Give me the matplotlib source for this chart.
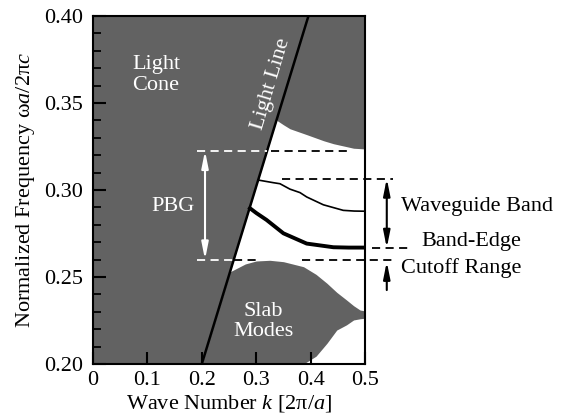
import matplotlib
matplotlib.use("Agg")
import matplotlib.pyplot as plt
from matplotlib.ticker import MultipleLocator

plt.rcParams['font.family'] = ['Liberation Serif', 'DejaVu Serif']
plt.rcParams['mathtext.fontset'] = 'custom'
plt.rcParams['mathtext.rm'] = 'Liberation Serif'
plt.rcParams['mathtext.it'] = 'Liberation Serif:italic'

GRAY = '#626262'

# light line (k, omega)
light_k = [0.2, 0.396]
light_w = [0.2, 0.4]

# upper continuum, lower edge (starts on the light line)
upper_k = [0.338, 0.35, 0.362, 0.393, 0.424, 0.442, 0.472, 0.479, 0.5]
upper_w = [0.340, 0.3375, 0.3352, 0.3318, 0.3283, 0.3266, 0.3245, 0.324, 0.3236]

# slab modes: upper and lower edges
slab_k = [0.2, 0.252, 0.28, 0.30, 0.325, 0.35, 0.387, 0.41, 0.43, 0.448, 0.466, 0.479, 0.491, 0.5]
slab_top = [0.2, 0.253, 0.2575, 0.2592, 0.2596, 0.2588, 0.2559, 0.2515, 0.2464, 0.2412, 0.2368, 0.2335, 0.231, 0.2305]
slab_bot = [0.2, 0.2, 0.2, 0.2, 0.2, 0.2, 0.2, 0.2045, 0.2119, 0.2195, 0.2225, 0.2253, 0.2260, 0.2263]

# guided bands
band1_k = [0.304, 0.3315, 0.3437, 0.362, 0.3805, 0.3928, 0.4234, 0.46, 0.48, 0.5]
band1_w = [0.3057, 0.3042, 0.3036, 0.3005, 0.2985, 0.2960, 0.2915, 0.2883, 0.2879, 0.2878]
band2_k = [0.2886, 0.30, 0.319, 0.35, 0.3928, 0.4418, 0.47, 0.5]
band2_w = [0.2895, 0.2868, 0.2828, 0.2751, 0.2692, 0.2671, 0.2669, 0.2669]

# reference levels
pbg_top = 0.3225
pbg_bot = 0.2600
wg_top = 0.3066
edge_w = 0.2667
cutoff_w = 0.2600

fig = plt.figure(figsize=(5.66, 4.19), dpi=100)
ax = fig.add_axes([0.1643, 0.1313, 0.4806, 0.8305])

# regions
ax.fill_betweenx(light_w, 0, light_k, color=GRAY, lw=0)
ax.fill_between(upper_k, upper_w, 0.4, color=GRAY, lw=0)
ax.fill_between(slab_k, slab_bot, slab_top, color=GRAY, lw=0)
ax.plot(light_k, light_w, color='black', lw=1.8, solid_capstyle='butt')

# bands
ax.plot(band1_k, band1_w, color='black', lw=1.2)
ax.plot(band2_k, band2_w, color='black', lw=2.8)

dash = dict(lw=1.3, dashes=(4.5, 3), clip_on=False)
# PBG edges: white over the gray, black in the open region
ax.plot([0.1906, 0.32], [pbg_top, pbg_top], color='white', **dash)
ax.plot([0.328, 0.472], [pbg_top, pbg_top], color='black', **dash)
ax.plot([0.1906, 0.2588], [pbg_bot, pbg_bot], color='white', **dash)
ax.plot([0.2588, 0.301], [pbg_bot, pbg_bot], color='black', **dash)
ax.plot([0.3836, 0.552], [cutoff_w, cutoff_w], color='black', **dash)
ax.plot([0.347, 0.552], [wg_top, wg_top], color='black', **dash)
ax.plot([0.512, 0.586], [edge_w, edge_w], color='black', **dash)

# arrows
head = '<|-|>,head_length=1.0,head_width=0.2'
ax.annotate('', xy=(0.2059, pbg_bot), xytext=(0.2059, pbg_top),
            arrowprops=dict(arrowstyle=head, color='white', lw=1.5, shrinkA=0, shrinkB=0))
ax.annotate('', xy=(0.54, edge_w), xytext=(0.54, wg_top), annotation_clip=False,
            arrowprops=dict(arrowstyle=head, color='black', lw=1.5, shrinkA=0, shrinkB=0))
ax.annotate('', xy=(0.54, cutoff_w - 0.0012), xytext=(0.54, 0.2425), annotation_clip=False,
            arrowprops=dict(arrowstyle='-|>,head_length=1.0,head_width=0.2',
                            color='black', lw=1.5, shrinkA=0, shrinkB=0))

# labels
fs = 16
ax.text(0.116, 0.366, 'Light\nCone', color='white', fontsize=fs, ha='center', va='center', linespacing=1.1)
ax.text(0.327, 0.361, 'Light Line', color='white', fontsize=fs, ha='center', va='center',
        rotation=73.5, rotation_mode='anchor')
ax.text(0.1477, 0.2908, 'PBG', color='white', fontsize=fs, ha='center', va='center')
ax.text(0.313, 0.2245, 'Slab\nModes', color='white', fontsize=fs, ha='center', va='center', linespacing=1.1)
ax.text(0.567, 0.2905, 'Waveguide Band', fontsize=fs, ha='left', va='center', clip_on=False)
ax.text(0.604, 0.2705, 'Band-Edge', fontsize=fs, ha='left', va='center', clip_on=False)
ax.text(0.567, 0.2552, 'Cutoff Range', fontsize=fs, ha='left', va='center', clip_on=False)

ax.set_xlim(0, 0.5)
ax.set_ylim(0.2, 0.4)
ax.set_xticks([0, 0.1, 0.2, 0.3, 0.4, 0.5])
ax.set_xticklabels(['0', '0.1', '0.2', '0.3', '0.4', '0.5'])
ax.set_yticks([0.20, 0.25, 0.30, 0.35, 0.40])
ax.set_yticklabels(['0.20', '0.25', '0.30', '0.35', '0.40'])
ax.yaxis.set_minor_locator(MultipleLocator(0.01))
ax.tick_params(axis='both', which='major', direction='in', labelsize=16, width=1.5, length=9)
ax.tick_params(axis='y', which='major', pad=7)
ax.tick_params(axis='x', which='major', pad=5)
ax.tick_params(axis='y', which='minor', direction='in', width=1.3, length=6)
for s in ax.spines.values():
    s.set_linewidth(1.5)
    s.set_zorder(5)

ax.set_xlabel('Wave Number $k$ [2π/$a$]', fontsize=16, labelpad=2)
ax.set_ylabel('Normalized Frequency ω$a$/2π$c$', fontsize=16, labelpad=5)

fig.savefig('out.png', dpi=100)
